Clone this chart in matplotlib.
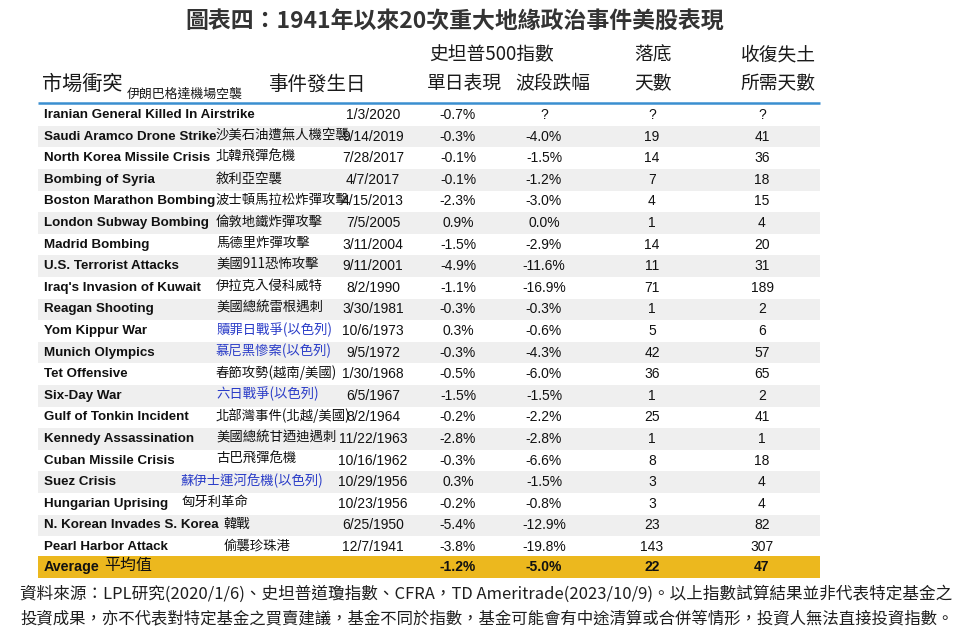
import matplotlib
matplotlib.use("Agg")
import matplotlib.pyplot as plt
from matplotlib.patches import Rectangle

# table contents
events_en = ["Iranian General Killed In Airstrike", "Saudi Aramco Drone Strike",
             "North Korea Missile Crisis", "Bombing of Syria", "Boston Marathon Bombing",
             "London Subway Bombing", "Madrid Bombing", "U.S. Terrorist Attacks",
             "Iraq's Invasion of Kuwait", "Reagan Shooting", "Yom Kippur War",
             "Munich Olympics", "Tet Offensive", "Six-Day War", "Gulf of Tonkin Incident",
             "Kennedy Assassination", "Cuban Missile Crisis", "Suez Crisis",
             "Hungarian Uprising", "N. Korean Invades S. Korea", "Pearl Harbor Attack"]
events_zh = ["", "沙美石油遭無人機空襲", "北韓飛彈危機", "敘利亞空襲", "波士頓馬拉松炸彈攻擊",
             "倫敦地鐵炸彈攻擊", "馬德里炸彈攻擊", "美國911恐怖攻擊", "伊拉克入侵科威特",
             "美國總統雷根遇刺", "贖罪日戰爭(以色列)", "慕尼黑慘案(以色列)", "春節攻勢(越南/美國)",
             "六日戰爭(以色列)", "北部灣事件(北越/美國)", "美國總統甘迺迪遇刺", "古巴飛彈危機",
             "蘇伊士運河危機(以色列)", "匈牙利革命", "韓戰", "偷襲珍珠港"]
dates = ["1/3/2020", "9/14/2019", "7/28/2017", "4/7/2017", "4/15/2013", "7/5/2005",
         "3/11/2004", "9/11/2001", "8/2/1990", "3/30/1981", "10/6/1973", "9/5/1972",
         "1/30/1968", "6/5/1967", "8/2/1964", "11/22/1963", "10/16/1962", "10/29/1956",
         "10/23/1956", "6/25/1950", "12/7/1941"]
day_perf = ["-0.7%", "-0.3%", "-0.1%", "-0.1%", "-2.3%", "0.9%", "-1.5%", "-4.9%", "-1.1%",
            "-0.3%", "0.3%", "-0.3%", "-0.5%", "-1.5%", "-0.2%", "-2.8%", "-0.3%", "0.3%",
            "-0.2%", "-5.4%", "-3.8%"]
drawdown = ["?", "-4.0%", "-1.5%", "-1.2%", "-3.0%", "0.0%", "-2.9%", "-11.6%", "-16.9%",
            "-0.3%", "-0.6%", "-4.3%", "-6.0%", "-1.5%", "-2.2%", "-2.8%", "-6.6%", "-1.5%",
            "-0.8%", "-12.9%", "-19.8%"]
days_bottom = ["?", "19", "14", "7", "4", "1", "14", "11", "71", "1", "5", "42", "36", "1",
               "25", "1", "8", "3", "3", "23", "143"]
days_recover = ["?", "41", "36", "18", "15", "4", "20", "31", "189", "2", "6", "57", "65", "2",
                "41", "1", "18", "4", "4", "82", "307"]
avg_values = ["-1.2%", "-5.0%", "22", "47"]
blue_rows = {"Yom Kippur War", "Munich Olympics", "Six-Day War", "Suez Crisis"}

title = "圖表四：1941年以來20次重大地緣政治事件美股表現"
note1 = "資料來源：LPL研究(2020/1/6)、史坦普道瓊指數、CFRA，TD Ameritrade(2023/10/9)。以上指數試算結果並非代表特定基金之"
note2 = "投資成果，亦不代表對特定基金之買賣建議，基金不同於指數，基金可能會有中途清算或合併等情形，投資人無法直接投資指數。"

ZH = ["Noto Sans CJK TC", "DejaVu Sans"]
EN = ["Liberation Sans", "Noto Sans CJK TC"]

fig = plt.figure(figsize=(9.6, 6.4), dpi=100)
ax = fig.add_axes([0, 0, 1, 1])
ax.set_xlim(0, 960)
ax.set_ylim(640, 0)
ax.axis("off")

# column anchors (pixels)
x_en, x_zh, x_date = 44, 216, 373
x_cols = [458, 544, 652, 762]
zh_shift = {"Suez Crisis": -35, "Hungarian Uprising": -34,
            "N. Korean Invades S. Korea": 8, "Pearl Harbor Attack": 8}
y0, dy = 115, 21.6
left, right = 38, 820

ax.text(455, 22, title, family=ZH, fontsize=16.5, color="#333333",
        ha="center", va="center", weight="bold")

# header
hc = "#1a1a1a"
ax.text(42, 84, "市場衝突", family=ZH, fontsize=14.5, color=hc, va="center")
ax.text(127, 94, "伊朗巴格達機場空襲", family=ZH, fontsize=9.3, color=hc, va="center")
ax.text(317, 84, "事件發生日", family=ZH, fontsize=14, color=hc, ha="center", va="center")
ax.text(492, 55, "史坦普500指數", family=ZH, fontsize=13.5, color=hc, ha="center", va="center")
ax.text(464, 84, "單日表現", family=ZH, fontsize=13.5, color=hc, ha="center", va="center")
ax.text(553, 84, "波段跌幅", family=ZH, fontsize=13.5, color=hc, ha="center", va="center")
ax.text(653, 55, "落底", family=ZH, fontsize=13.5, color=hc, ha="center", va="center")
ax.text(653, 84, "天數", family=ZH, fontsize=13.5, color=hc, ha="center", va="center")
ax.text(778, 55, "收復失土", family=ZH, fontsize=13.5, color=hc, ha="center", va="center")
ax.text(778, 84, "所需天數", family=ZH, fontsize=13.5, color=hc, ha="center", va="center")
ax.plot([left, right], [103, 103], color="#3a8fd0", lw=1.8, solid_capstyle="butt")

# body rows
for i, name in enumerate(events_en):
    y = y0 + i * dy
    if i % 2 == 1:
        ax.add_patch(Rectangle((left, y - dy / 2), right - left, dy,
                               facecolor="#efefef", edgecolor="none", zorder=0))
    ax.text(x_en, y, name, family=EN, fontsize=9.6, weight="bold", color="#111", va="center")
    zc = "#2a3cc8" if name in blue_rows else "#111"
    ax.text(x_zh + zh_shift.get(name, 0), y - 1.5, events_zh[i], family=ZH, fontsize=9.6,
            color=zc, va="center")
    ax.text(x_date, y, dates[i], family=EN, fontsize=10, color="#111", ha="center", va="center")
    for x, v in zip(x_cols, [day_perf[i], drawdown[i], days_bottom[i], days_recover[i]]):
        ax.text(x, y, v, family=EN, fontsize=10, color="#111", ha="center", va="center")

# average row
ya = y0 + len(events_en) * dy - 2
ax.add_patch(Rectangle((left, ya - 11), right - left, 22, facecolor="#ecb81e",
                       edgecolor="none", zorder=0))
ax.text(x_en, ya, "Average", family=EN, fontsize=10.3, weight="bold", color="#111", va="center")
ax.text(104, ya - 1, "平均值", family=ZH, fontsize=11.5, color="#111", va="center")
for x, v in zip(x_cols, avg_values):
    ax.text(x, ya, v, family=EN, fontsize=10, weight="bold", color="#111",
            ha="center", va="center")

# source note
ax.text(20, 594, note1, family=ZH, fontsize=11.95, color="#1e1e1e", va="center")
ax.text(20, 619, note2, family=ZH, fontsize=11.8, color="#1e1e1e", va="center", weight="medium")

fig.savefig("out.png", dpi=100)
